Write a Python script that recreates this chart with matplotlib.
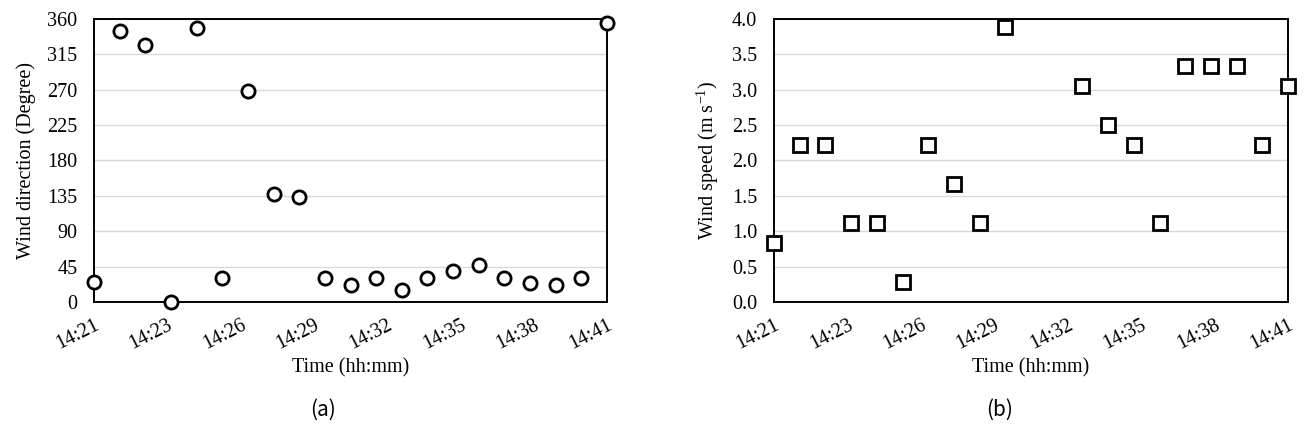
import matplotlib
matplotlib.use("Agg")
import matplotlib.pyplot as plt
import numpy as np

# ---- data ----
times = ["14:21", "14:22", "14:23", "14:24", "14:25", "14:26", "14:27", "14:28",
         "14:29", "14:30", "14:31", "14:32", "14:33", "14:34", "14:35", "14:36",
         "14:37", "14:38", "14:39", "14:40", "14:41"]
wind_dir = [26, 345, 327, 0, 349, 30, 269, 138, 133, 30, 21, 30, 15, 31, 40, 47,
            31, 24, 21, 30, 355]
wind_speed = [0.83, 2.22, 2.22, 1.11, 1.11, 0.28, 2.22, 1.67, 1.11, 3.89, np.nan,
              np.nan, 3.06, 2.50, 2.22, 1.11, 3.33, 3.33, 3.33, 2.22, 3.06]
tick_labels = ["14:21", "14:23", "14:26", "14:29", "14:32", "14:35", "14:38", "14:41"]
dir_ticks = [0, 45, 90, 135, 180, 225, 270, 315, 360]
speed_ticks = [0.0, 0.5, 1.0, 1.5, 2.0, 2.5, 3.0, 3.5, 4.0]

def to_min(t):
    h, m = t.split(":")
    return int(h) * 60 + int(m)

x = np.array([to_min(t) for t in times], dtype=float)
x = x - x[0]
tick_pos = np.linspace(x[0], x[-1], len(tick_labels))

plt.rcParams['font.family'] = ['Liberation Serif', 'DejaVu Serif']

W, H = 1312, 436
fig = plt.figure(figsize=(W / 100, H / 100), dpi=100)

def make_ax(left, right, top, bottom):
    return fig.add_axes([left / W, 1 - bottom / H, (right - left) / W, (bottom - top) / H])

ax1 = make_ax(94, 607, 19, 302)
ax2 = make_ax(774, 1288, 19, 302)

def style(ax, yticks, ylim, ylabel, fmt):
    ax.set_xlim(x[0], x[-1])
    ax.set_ylim(*ylim)
    ax.set_yticks(yticks)
    ax.set_yticklabels([fmt(v) for v in yticks])
    ax.set_xticks(tick_pos)
    ax.set_xticklabels(tick_labels, rotation=27, ha='right', va='top',
                       rotation_mode='anchor')
    ax.tick_params(axis='both', length=0, labelsize=14.5)
    ax.tick_params(axis='y', pad=12)
    ax.tick_params(axis='x', pad=10)
    ax.grid(axis='y', color='#d9d9d9', linewidth=1.0)
    ax.set_axisbelow(True)
    for s in ax.spines.values():
        s.set_color('black')
        s.set_linewidth(1.4)
    ax.set_ylabel(ylabel, fontsize=14.5, labelpad=8)
    ax.set_xlabel("Time (hh:mm)", fontsize=14.5, labelpad=3)

style(ax1, dir_ticks, (0, 360), "Wind direction (Degree)", lambda v: f"{v:d}")
style(ax2, speed_ticks, (0, 4.0), r"Wind speed (m s$^{\mathregular{-1}}$)", lambda v: f"{v:.1f}")

ax1.plot(x, wind_dir, linestyle='none', marker='o', markersize=9.5,
         markerfacecolor='white', markeredgecolor='black', markeredgewidth=2.0,
         clip_on=False, zorder=5)
ax2.plot(x, wind_speed, linestyle='none', marker='s', markersize=9.5,
         markerfacecolor='white', markeredgecolor='black', markeredgewidth=2.0,
         clip_on=False, zorder=5)

fig.text(323 / W, 1 - 410 / H, "(a)", ha='center', va='center', fontsize=15,
         family=['Noto Sans CJK TC', 'DejaVu Sans'])
fig.text(1000 / W, 1 - 410 / H, "(b)", ha='center', va='center', fontsize=15,
         family=['Noto Sans CJK TC', 'DejaVu Sans'])

fig.savefig("out.png", dpi=100, facecolor='white')
